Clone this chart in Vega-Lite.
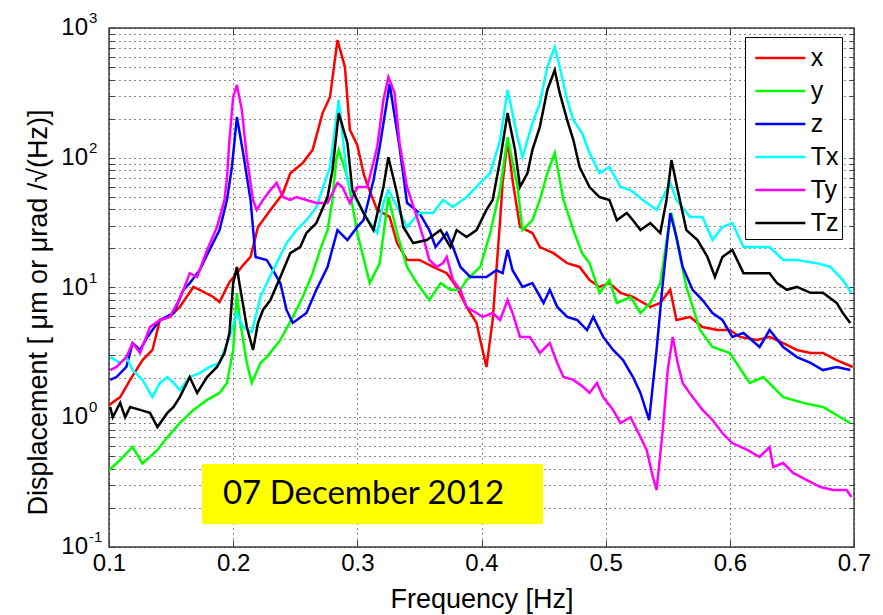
{
"$schema":"https://vega.github.io/schema/vega-lite/v6.json",
"width":745,"height":519,
"autosize":"none",
"padding":{"left":109,"top":28,"right":29,"bottom":68},
"background":"white",
"config":{"font":"Liberation Sans","view":{"stroke":"#404040","strokeWidth":1.5}},
"datasets":{
"spec":[
{"s":"x","f":0.100,"v":1.24},{"s":"x","f":0.109,"v":1.43},{"s":"x","f":0.117,"v":1.94},{"s":"x","f":0.127,"v":2.76},{"s":"x","f":0.135,"v":3.30},{"s":"x","f":0.141,"v":5.62},{"s":"x","f":0.149,"v":5.93},{"s":"x","f":0.157,"v":7.08},{"s":"x","f":0.168,"v":10.1},{"s":"x","f":0.173,"v":9.6},{"s":"x","f":0.184,"v":8.45},{"s":"x","f":0.189,"v":7.73},{"s":"x","f":0.197,"v":11.0},{"s":"x","f":0.203,"v":12.9},{"s":"x","f":0.208,"v":14.9},{"s":"x","f":0.214,"v":17.2},{"s":"x","f":0.220,"v":29.3},{"s":"x","f":0.230,"v":39.6},{"s":"x","f":0.240,"v":53},{"s":"x","f":0.246,"v":76},{"s":"x","f":0.256,"v":91},{"s":"x","f":0.264,"v":115},{"s":"x","f":0.272,"v":221},{"s":"x","f":0.278,"v":294},{"s":"x","f":0.284,"v":808},{"s":"x","f":0.290,"v":500},{"s":"x","f":0.294,"v":164},{"s":"x","f":0.300,"v":125},{"s":"x","f":0.305,"v":76},{"s":"x","f":0.308,"v":62},{"s":"x","f":0.316,"v":39.6},{"s":"x","f":0.326,"v":35},{"s":"x","f":0.332,"v":22},{"s":"x","f":0.340,"v":16.3},{"s":"x","f":0.350,"v":16.3},{"s":"x","f":0.361,"v":14.4},{"s":"x","f":0.372,"v":12.9},{"s":"x","f":0.380,"v":10.1},{"s":"x","f":0.388,"v":7.08},{"s":"x","f":0.396,"v":5.33},{"s":"x","f":0.399,"v":3.94},{"s":"x","f":0.404,"v":2.44},{"s":"x","f":0.409,"v":5.62},{"s":"x","f":0.412,"v":13.6},{"s":"x","f":0.415,"v":33},{"s":"x","f":0.417,"v":64},{"s":"x","f":0.421,"v":137},{"s":"x","f":0.425,"v":67},{"s":"x","f":0.431,"v":29.3},{"s":"x","f":0.441,"v":26.3},{"s":"x","f":0.447,"v":20.5},{"s":"x","f":0.458,"v":18.4},{"s":"x","f":0.469,"v":15.4},{"s":"x","f":0.479,"v":14.4},{"s":"x","f":0.487,"v":11.4},{"s":"x","f":0.495,"v":10.1},{"s":"x","f":0.503,"v":10.8},{"s":"x","f":0.512,"v":9.1},{"s":"x","f":0.522,"v":8.45},{"s":"x","f":0.536,"v":7.08},{"s":"x","f":0.544,"v":7.6},{"s":"x","f":0.552,"v":9.6},{"s":"x","f":0.557,"v":5.62},{"s":"x","f":0.568,"v":5.93},{"s":"x","f":0.578,"v":4.96},{"s":"x","f":0.590,"v":4.70},{"s":"x","f":0.600,"v":4.70},{"s":"x","f":0.608,"v":4.16},{"s":"x","f":0.622,"v":3.94},{"s":"x","f":0.632,"v":4.16},{"s":"x","f":0.643,"v":3.73},{"s":"x","f":0.654,"v":3.30},{"s":"x","f":0.665,"v":3.13},{"s":"x","f":0.675,"v":3.13},{"s":"x","f":0.686,"v":2.76},{"s":"x","f":0.699,"v":2.44},
{"s":"y","f":0.100,"v":0.39},{"s":"y","f":0.109,"v":0.47},{"s":"y","f":0.119,"v":0.59},{"s":"y","f":0.127,"v":0.44},{"s":"y","f":0.139,"v":0.56},{"s":"y","f":0.147,"v":0.70},{"s":"y","f":0.157,"v":0.90},{"s":"y","f":0.168,"v":1.14},{"s":"y","f":0.179,"v":1.36},{"s":"y","f":0.189,"v":1.54},{"s":"y","f":0.195,"v":1.84},{"s":"y","f":0.200,"v":3.30},{"s":"y","f":0.203,"v":9.1},{"s":"y","f":0.205,"v":5.93},{"s":"y","f":0.211,"v":2.62},{"s":"y","f":0.215,"v":1.84},{"s":"y","f":0.222,"v":2.62},{"s":"y","f":0.227,"v":2.91},{"s":"y","f":0.238,"v":3.94},{"s":"y","f":0.248,"v":5.93},{"s":"y","f":0.256,"v":8.45},{"s":"y","f":0.264,"v":12.9},{"s":"y","f":0.270,"v":19.5},{"s":"y","f":0.276,"v":27.7},{"s":"y","f":0.280,"v":47.3},{"s":"y","f":0.283,"v":96},{"s":"y","f":0.285,"v":115},{"s":"y","f":0.292,"v":71},{"s":"y","f":0.300,"v":26.3},{"s":"y","f":0.310,"v":10.8},{"s":"y","f":0.318,"v":15.4},{"s":"y","f":0.325,"v":49.8},{"s":"y","f":0.332,"v":26.3},{"s":"y","f":0.340,"v":14.4},{"s":"y","f":0.348,"v":10.8},{"s":"y","f":0.358,"v":8.0},{"s":"y","f":0.367,"v":10.8},{"s":"y","f":0.375,"v":9.6},{"s":"y","f":0.383,"v":9.6},{"s":"y","f":0.388,"v":11.4},{"s":"y","f":0.399,"v":14.4},{"s":"y","f":0.407,"v":26.3},{"s":"y","f":0.415,"v":57},{"s":"y","f":0.421,"v":144},{"s":"y","f":0.429,"v":59.5},{"s":"y","f":0.433,"v":27.7},{"s":"y","f":0.441,"v":33},{"s":"y","f":0.447,"v":47.3},{"s":"y","f":0.453,"v":76},{"s":"y","f":0.459,"v":109},{"s":"y","f":0.466,"v":47.3},{"s":"y","f":0.474,"v":27.7},{"s":"y","f":0.481,"v":18.4},{"s":"y","f":0.487,"v":15.4},{"s":"y","f":0.495,"v":9.1},{"s":"y","f":0.503,"v":11.4},{"s":"y","f":0.509,"v":7.6},{"s":"y","f":0.520,"v":8.45},{"s":"y","f":0.528,"v":6.36},{"s":"y","f":0.536,"v":7.6},{"s":"y","f":0.544,"v":10.8},{"s":"y","f":0.550,"v":26.3},{"s":"y","f":0.553,"v":37.5},{"s":"y","f":0.560,"v":17.2},{"s":"y","f":0.565,"v":10.1},{"s":"y","f":0.576,"v":4.70},{"s":"y","f":0.586,"v":3.48},{"s":"y","f":0.600,"v":3.13},{"s":"y","f":0.616,"v":1.84},{"s":"y","f":0.627,"v":2.04},{"s":"y","f":0.643,"v":1.43},{"s":"y","f":0.659,"v":1.29},{"s":"y","f":0.675,"v":1.20},{"s":"y","f":0.689,"v":1.0},{"s":"y","f":0.697,"v":0.9},
{"s":"z","f":0.101,"v":1.94},{"s":"z","f":0.106,"v":2.04},{"s":"z","f":0.114,"v":2.44},{"s":"z","f":0.119,"v":3.73},{"s":"z","f":0.125,"v":3.30},{"s":"z","f":0.131,"v":4.16},{"s":"z","f":0.135,"v":4.70},{"s":"z","f":0.141,"v":5.62},{"s":"z","f":0.152,"v":6.36},{"s":"z","f":0.160,"v":9.6},{"s":"z","f":0.165,"v":10.8},{"s":"z","f":0.173,"v":13.6},{"s":"z","f":0.181,"v":19.5},{"s":"z","f":0.189,"v":27.7},{"s":"z","f":0.195,"v":47.3},{"s":"z","f":0.199,"v":85},{"s":"z","f":0.203,"v":206},{"s":"z","f":0.208,"v":109},{"s":"z","f":0.214,"v":47.3},{"s":"z","f":0.218,"v":17.2},{"s":"z","f":0.227,"v":16.3},{"s":"z","f":0.232,"v":13.6},{"s":"z","f":0.238,"v":10.8},{"s":"z","f":0.243,"v":6.71},{"s":"z","f":0.248,"v":5.33},{"s":"z","f":0.259,"v":6.36},{"s":"z","f":0.267,"v":9.6},{"s":"z","f":0.276,"v":14.4},{"s":"z","f":0.284,"v":27.7},{"s":"z","f":0.292,"v":23.2},{"s":"z","f":0.300,"v":29.3},{"s":"z","f":0.305,"v":33},{"s":"z","f":0.313,"v":67},{"s":"z","f":0.318,"v":121},{"s":"z","f":0.324,"v":279},{"s":"z","f":0.326,"v":370},{"s":"z","f":0.334,"v":121},{"s":"z","f":0.340,"v":45},{"s":"z","f":0.350,"v":37.5},{"s":"z","f":0.358,"v":27.7},{"s":"z","f":0.363,"v":20.5},{"s":"z","f":0.372,"v":26.3},{"s":"z","f":0.377,"v":20.5},{"s":"z","f":0.383,"v":14.4},{"s":"z","f":0.391,"v":12.05},{"s":"z","f":0.399,"v":12.05},{"s":"z","f":0.404,"v":12.05},{"s":"z","f":0.412,"v":13.6},{"s":"z","f":0.417,"v":12.9},{"s":"z","f":0.421,"v":19.5},{"s":"z","f":0.425,"v":13.6},{"s":"z","f":0.433,"v":10.1},{"s":"z","f":0.441,"v":10.8},{"s":"z","f":0.450,"v":7.6},{"s":"z","f":0.455,"v":9.6},{"s":"z","f":0.461,"v":7.08},{"s":"z","f":0.469,"v":5.93},{"s":"z","f":0.477,"v":5.62},{"s":"z","f":0.485,"v":4.70},{"s":"z","f":0.490,"v":5.93},{"s":"z","f":0.498,"v":4.16},{"s":"z","f":0.506,"v":3.30},{"s":"z","f":0.514,"v":2.76},{"s":"z","f":0.522,"v":2.04},{"s":"z","f":0.528,"v":1.54},{"s":"z","f":0.535,"v":0.95},{"s":"z","f":0.541,"v":3.30},{"s":"z","f":0.546,"v":10.8},{"s":"z","f":0.552,"v":37.5},{"s":"z","f":0.557,"v":24.5},{"s":"z","f":0.562,"v":14.4},{"s":"z","f":0.570,"v":9.6},{"s":"z","f":0.578,"v":8.0},{"s":"z","f":0.586,"v":6.36},{"s":"z","f":0.594,"v":5.62},{"s":"z","f":0.602,"v":4.16},{"s":"z","f":0.611,"v":4.46},{"s":"z","f":0.624,"v":3.48},{"s":"z","f":0.632,"v":4.70},{"s":"z","f":0.643,"v":3.48},{"s":"z","f":0.654,"v":2.91},{"s":"z","f":0.665,"v":2.62},{"s":"z","f":0.675,"v":2.31},{"s":"z","f":0.686,"v":2.44},{"s":"z","f":0.697,"v":2.31},
{"s":"Tx","f":0.101,"v":2.91},{"s":"Tx","f":0.109,"v":2.62},{"s":"Tx","f":0.114,"v":2.91},{"s":"Tx","f":0.119,"v":2.31},{"s":"Tx","f":0.127,"v":1.94},{"s":"Tx","f":0.135,"v":1.43},{"s":"Tx","f":0.141,"v":1.84},{"s":"Tx","f":0.147,"v":2.04},{"s":"Tx","f":0.152,"v":1.84},{"s":"Tx","f":0.157,"v":1.62},{"s":"Tx","f":0.165,"v":2.04},{"s":"Tx","f":0.173,"v":2.19},{"s":"Tx","f":0.181,"v":2.44},{"s":"Tx","f":0.189,"v":2.62},{"s":"Tx","f":0.197,"v":4.16},{"s":"Tx","f":0.203,"v":6.36},{"s":"Tx","f":0.208,"v":4.96},{"s":"Tx","f":0.215,"v":4.54},{"s":"Tx","f":0.222,"v":8.45},{"s":"Tx","f":0.227,"v":10.8},{"s":"Tx","f":0.235,"v":15.4},{"s":"Tx","f":0.243,"v":22},{"s":"Tx","f":0.251,"v":27.7},{"s":"Tx","f":0.259,"v":33},{"s":"Tx","f":0.267,"v":41.7},{"s":"Tx","f":0.278,"v":84.9},{"s":"Tx","f":0.285,"v":279},{"s":"Tx","f":0.292,"v":67},{"s":"Tx","f":0.296,"v":53},{"s":"Tx","f":0.305,"v":37.5},{"s":"Tx","f":0.316,"v":26.3},{"s":"Tx","f":0.321,"v":44.8},{"s":"Tx","f":0.325,"v":56.4},{"s":"Tx","f":0.332,"v":41.7},{"s":"Tx","f":0.340,"v":29.3},{"s":"Tx","f":0.350,"v":37.5},{"s":"Tx","f":0.361,"v":37.5},{"s":"Tx","f":0.369,"v":47.3},{"s":"Tx","f":0.377,"v":41.7},{"s":"Tx","f":0.388,"v":49.8},{"s":"Tx","f":0.399,"v":64},{"s":"Tx","f":0.407,"v":76},{"s":"Tx","f":0.415,"v":137},{"s":"Tx","f":0.421,"v":333},{"s":"Tx","f":0.429,"v":144},{"s":"Tx","f":0.433,"v":101},{"s":"Tx","f":0.441,"v":185},{"s":"Tx","f":0.447,"v":264},{"s":"Tx","f":0.453,"v":500},{"s":"Tx","f":0.459,"v":714},{"s":"Tx","f":0.463,"v":500},{"s":"Tx","f":0.469,"v":279},{"s":"Tx","f":0.474,"v":195},{"s":"Tx","f":0.481,"v":155},{"s":"Tx","f":0.487,"v":109},{"s":"Tx","f":0.495,"v":76},{"s":"Tx","f":0.503,"v":84.9},{"s":"Tx","f":0.512,"v":59.5},{"s":"Tx","f":0.520,"v":56.4},{"s":"Tx","f":0.530,"v":47.3},{"s":"Tx","f":0.541,"v":39.6},{"s":"Tx","f":0.552,"v":64},{"s":"Tx","f":0.557,"v":47.3},{"s":"Tx","f":0.568,"v":34.9},{"s":"Tx","f":0.578,"v":34.9},{"s":"Tx","f":0.586,"v":23.2},{"s":"Tx","f":0.594,"v":29.3},{"s":"Tx","f":0.602,"v":31.4},{"s":"Tx","f":0.611,"v":20.5},{"s":"Tx","f":0.622,"v":20.5},{"s":"Tx","f":0.632,"v":20.5},{"s":"Tx","f":0.643,"v":16.3},{"s":"Tx","f":0.654,"v":16.3},{"s":"Tx","f":0.670,"v":15.4},{"s":"Tx","f":0.681,"v":14.4},{"s":"Tx","f":0.691,"v":11.4},{"s":"Tx","f":0.698,"v":9.1},
{"s":"Ty","f":0.101,"v":2.31},{"s":"Ty","f":0.106,"v":2.44},{"s":"Ty","f":0.114,"v":2.91},{"s":"Ty","f":0.119,"v":3.73},{"s":"Ty","f":0.125,"v":3.13},{"s":"Ty","f":0.133,"v":4.96},{"s":"Ty","f":0.141,"v":5.62},{"s":"Ty","f":0.149,"v":5.93},{"s":"Ty","f":0.155,"v":7.6},{"s":"Ty","f":0.160,"v":9.6},{"s":"Ty","f":0.165,"v":12.9},{"s":"Ty","f":0.171,"v":12.05},{"s":"Ty","f":0.179,"v":19.5},{"s":"Ty","f":0.187,"v":29.3},{"s":"Ty","f":0.193,"v":47.3},{"s":"Ty","f":0.195,"v":70},{"s":"Ty","f":0.197,"v":137},{"s":"Ty","f":0.200,"v":294},{"s":"Ty","f":0.203,"v":364},{"s":"Ty","f":0.207,"v":233},{"s":"Ty","f":0.211,"v":101},{"s":"Ty","f":0.216,"v":47.3},{"s":"Ty","f":0.219,"v":39.6},{"s":"Ty","f":0.224,"v":47.3},{"s":"Ty","f":0.230,"v":56.4},{"s":"Ty","f":0.235,"v":64},{"s":"Ty","f":0.240,"v":49.8},{"s":"Ty","f":0.246,"v":47.3},{"s":"Ty","f":0.251,"v":49.8},{"s":"Ty","f":0.259,"v":47.3},{"s":"Ty","f":0.267,"v":44.8},{"s":"Ty","f":0.276,"v":44.8},{"s":"Ty","f":0.284,"v":64},{"s":"Ty","f":0.288,"v":59.5},{"s":"Ty","f":0.294,"v":44.8},{"s":"Ty","f":0.300,"v":59.5},{"s":"Ty","f":0.308,"v":59.5},{"s":"Ty","f":0.316,"v":121},{"s":"Ty","f":0.321,"v":279},{"s":"Ty","f":0.325,"v":419},{"s":"Ty","f":0.330,"v":316},{"s":"Ty","f":0.334,"v":130},{"s":"Ty","f":0.340,"v":59.5},{"s":"Ty","f":0.348,"v":34.9},{"s":"Ty","f":0.353,"v":24.5},{"s":"Ty","f":0.358,"v":16.3},{"s":"Ty","f":0.364,"v":14.4},{"s":"Ty","f":0.369,"v":15.4},{"s":"Ty","f":0.372,"v":17.2},{"s":"Ty","f":0.377,"v":11.4},{"s":"Ty","f":0.383,"v":9.6},{"s":"Ty","f":0.388,"v":7.08},{"s":"Ty","f":0.396,"v":6.36},{"s":"Ty","f":0.401,"v":5.93},{"s":"Ty","f":0.409,"v":6.36},{"s":"Ty","f":0.415,"v":5.62},{"s":"Ty","f":0.421,"v":8.0},{"s":"Ty","f":0.425,"v":6.36},{"s":"Ty","f":0.431,"v":4.16},{"s":"Ty","f":0.439,"v":4.16},{"s":"Ty","f":0.447,"v":3.13},{"s":"Ty","f":0.455,"v":3.73},{"s":"Ty","f":0.461,"v":2.62},{"s":"Ty","f":0.466,"v":2.04},{"s":"Ty","f":0.474,"v":1.94},{"s":"Ty","f":0.482,"v":1.71},{"s":"Ty","f":0.487,"v":1.54},{"s":"Ty","f":0.493,"v":1.84},{"s":"Ty","f":0.498,"v":1.43},{"s":"Ty","f":0.506,"v":1.14},{"s":"Ty","f":0.512,"v":0.903},{"s":"Ty","f":0.520,"v":1.0},{"s":"Ty","f":0.528,"v":0.705},{"s":"Ty","f":0.533,"v":0.56},{"s":"Ty","f":0.538,"v":0.347},{"s":"Ty","f":0.541,"v":0.275},{"s":"Ty","f":0.546,"v":0.798},{"s":"Ty","f":0.550,"v":2.31},{"s":"Ty","f":0.554,"v":4.16},{"s":"Ty","f":0.558,"v":2.62},{"s":"Ty","f":0.562,"v":1.84},{"s":"Ty","f":0.570,"v":1.43},{"s":"Ty","f":0.578,"v":1.14},{"s":"Ty","f":0.586,"v":0.953},{"s":"Ty","f":0.594,"v":0.756},{"s":"Ty","f":0.602,"v":0.633},{"s":"Ty","f":0.614,"v":0.56},{"s":"Ty","f":0.624,"v":0.494},{"s":"Ty","f":0.632,"v":0.59},{"s":"Ty","f":0.635,"v":0.414},{"s":"Ty","f":0.643,"v":0.444},{"s":"Ty","f":0.651,"v":0.372},{"s":"Ty","f":0.662,"v":0.328},{"s":"Ty","f":0.673,"v":0.29},{"s":"Ty","f":0.683,"v":0.275},{"s":"Ty","f":0.694,"v":0.275},{"s":"Ty","f":0.698,"v":0.243},
{"s":"Tz","f":0.101,"v":1.20},{"s":"Tz","f":0.103,"v":1.0},{"s":"Tz","f":0.109,"v":1.29},{"s":"Tz","f":0.113,"v":1.0},{"s":"Tz","f":0.117,"v":1.20},{"s":"Tz","f":0.125,"v":1.14},{"s":"Tz","f":0.133,"v":1.08},{"s":"Tz","f":0.139,"v":0.84},{"s":"Tz","f":0.147,"v":1.08},{"s":"Tz","f":0.152,"v":1.20},{"s":"Tz","f":0.157,"v":1.43},{"s":"Tz","f":0.165,"v":2.04},{"s":"Tz","f":0.171,"v":1.54},{"s":"Tz","f":0.179,"v":2.04},{"s":"Tz","f":0.187,"v":2.44},{"s":"Tz","f":0.193,"v":3.13},{"s":"Tz","f":0.197,"v":4.46},{"s":"Tz","f":0.200,"v":10.8},{"s":"Tz","f":0.203,"v":14.4},{"s":"Tz","f":0.205,"v":10.8},{"s":"Tz","f":0.211,"v":4.96},{"s":"Tz","f":0.216,"v":3.30},{"s":"Tz","f":0.220,"v":5.33},{"s":"Tz","f":0.224,"v":6.71},{"s":"Tz","f":0.230,"v":8.0},{"s":"Tz","f":0.238,"v":12.05},{"s":"Tz","f":0.246,"v":18.4},{"s":"Tz","f":0.254,"v":20.5},{"s":"Tz","f":0.259,"v":26.3},{"s":"Tz","f":0.267,"v":31.4},{"s":"Tz","f":0.276,"v":49.8},{"s":"Tz","f":0.280,"v":80.5},{"s":"Tz","f":0.285,"v":221},{"s":"Tz","f":0.292,"v":130},{"s":"Tz","f":0.296,"v":56.4},{"s":"Tz","f":0.305,"v":37.5},{"s":"Tz","f":0.313,"v":27.7},{"s":"Tz","f":0.321,"v":59.5},{"s":"Tz","f":0.325,"v":101},{"s":"Tz","f":0.332,"v":53},{"s":"Tz","f":0.337,"v":29.3},{"s":"Tz","f":0.345,"v":22},{"s":"Tz","f":0.356,"v":23.2},{"s":"Tz","f":0.367,"v":27.7},{"s":"Tz","f":0.375,"v":20.5},{"s":"Tz","f":0.380,"v":27.7},{"s":"Tz","f":0.388,"v":24.5},{"s":"Tz","f":0.396,"v":27.7},{"s":"Tz","f":0.404,"v":39.6},{"s":"Tz","f":0.409,"v":47.3},{"s":"Tz","f":0.415,"v":96},{"s":"Tz","f":0.421,"v":221},{"s":"Tz","f":0.427,"v":115},{"s":"Tz","f":0.431,"v":59.5},{"s":"Tz","f":0.437,"v":76},{"s":"Tz","f":0.441,"v":115},{"s":"Tz","f":0.447,"v":173},{"s":"Tz","f":0.453,"v":333},{"s":"Tz","f":0.459,"v":474},{"s":"Tz","f":0.463,"v":316},{"s":"Tz","f":0.469,"v":195},{"s":"Tz","f":0.474,"v":137},{"s":"Tz","f":0.479,"v":84.9},{"s":"Tz","f":0.487,"v":59.5},{"s":"Tz","f":0.495,"v":49.8},{"s":"Tz","f":0.503,"v":47.3},{"s":"Tz","f":0.509,"v":33},{"s":"Tz","f":0.517,"v":37.5},{"s":"Tz","f":0.522,"v":33},{"s":"Tz","f":0.528,"v":27.7},{"s":"Tz","f":0.536,"v":31.4},{"s":"Tz","f":0.544,"v":26.3},{"s":"Tz","f":0.549,"v":47.3},{"s":"Tz","f":0.553,"v":96},{"s":"Tz","f":0.558,"v":56.4},{"s":"Tz","f":0.565,"v":27.7},{"s":"Tz","f":0.574,"v":23.2},{"s":"Tz","f":0.582,"v":17.2},{"s":"Tz","f":0.588,"v":12.05},{"s":"Tz","f":0.594,"v":17.2},{"s":"Tz","f":0.602,"v":19.5},{"s":"Tz","f":0.611,"v":12.9},{"s":"Tz","f":0.622,"v":12.9},{"s":"Tz","f":0.632,"v":12.9},{"s":"Tz","f":0.638,"v":10.8},{"s":"Tz","f":0.646,"v":9.6},{"s":"Tz","f":0.654,"v":10.1},{"s":"Tz","f":0.665,"v":9.1},{"s":"Tz","f":0.675,"v":9.1},{"s":"Tz","f":0.686,"v":7.6},{"s":"Tz","f":0.691,"v":6.36},{"s":"Tz","f":0.697,"v":5.33}
],
"box":[{"x1":0.1749,"x2":0.4495,"y1":0.150,"y2":0.436}],
"note":[{"f":0.305,"v":0.256,"t":"07 December 2012"}],
"ylab":[{"v":0.1,"e":"-1"},{"v":1,"e":"0"},{"v":10,"e":"1"},{"v":100,"e":"2"},{"v":1000,"e":"3"}]
},
"layer":[
{"data":{"name":"spec"},
 "mark":{"type":"line","strokeWidth":2.5,"clip":true},
 "encoding":{
  "x":{"field":"f","type":"quantitative","scale":{"domain":[0.1,0.7],"nice":false,"zero":false},
   "axis":{"orient":"bottom","values":[0.1,0.2,0.3,0.4,0.5,0.6,0.7],"format":".1f","labelFontSize":24,"labelColor":"black","labelPadding":11,"labelFlush":false,
    "grid":true,"gridDash":[1,4],"gridColor":"black","gridOpacity":0.9,"gridWidth":1,
    "ticks":true,"tickSize":-7,"tickColor":"#404040","domain":false,
    "title":"Frequency [Hz]","titleFontSize":27,"titleFontWeight":"normal","titleColor":"black","titleY":52,"titleBaseline":"middle"}},
  "y":{"field":"v","type":"quantitative","scale":{"type":"log","domain":[0.1,1000],"nice":false},
   "axis":{"orient":"left","values":[0.1,0.2,0.3,0.4,0.5,0.6,0.7,0.8,0.9,1,2,3,4,5,6,7,8,9,10,20,30,40,50,60,70,80,90,100,200,300,400,500,600,700,800,900,1000],
    "labels":false,"grid":true,"gridDash":[1,4],"gridColor":"black","gridOpacity":0.9,"gridWidth":1,
    "ticks":true,"tickSize":-5,"tickColor":"#404040","domain":false,
    "title":"Displacement [ μm or μrad /√(Hz)]","titleFontSize":27,"titleFontWeight":"normal","titleColor":"black","titleX":-71,"titleY":284,"titleAngle":270,"titleBaseline":"middle","titleAlign":"center"}},
  "color":{"field":"s","type":"nominal",
   "scale":{"domain":["x","y","z","Tx","Ty","Tz"],"range":["#ff0000","#00ff00","#0000ff","#00ffff","#ff00ff","#000000"]},
   "legend":{"orient":"none","legendX":636,"legendY":9,"title":null,"labelFontSize":25,"labelColor":"black","labelFont":"Liberation Sans",
    "padding":3,"strokeColor":"#000","fillColor":"white","labelOffset":26.7,"rowPadding":2,
    "symbolType":"M-0.64,0H2.36","symbolSize":1111,"symbolStrokeWidth":2.5}}
 }},
{"data":{"name":"box"},
 "mark":{"type":"rect","color":"#ffff00"},
 "encoding":{
  "x":{"field":"x1","type":"quantitative","axis":{"orient":"top","values":[0.1,0.2,0.3,0.4,0.5,0.6,0.7],"labels":false,"grid":false,"ticks":true,"tickSize":-7,"tickColor":"#404040","domain":false,"title":null}},
  "x2":{"field":"x2"},
  "y":{"field":"y1","type":"quantitative","axis":{"orient":"right","values":[0.1,0.2,0.3,0.4,0.5,0.6,0.7,0.8,0.9,1,2,3,4,5,6,7,8,9,10,20,30,40,50,60,70,80,90,100,200,300,400,500,600,700,800,900,1000],"labels":false,"grid":false,"ticks":true,"tickSize":-5,"tickColor":"#404040","domain":false,"title":null}},
  "y2":{"field":"y2"}
 }},
{"data":{"name":"note"},
 "mark":{"type":"text","font":"Lato","fontSize":33,"color":"black","align":"center","baseline":"middle"},
 "encoding":{
  "x":{"field":"f","type":"quantitative","axis":null},
  "y":{"field":"v","type":"quantitative","axis":null},
  "text":{"field":"t"}
 }},
{"data":{"name":"ylab"},
 "mark":{"type":"text","fontSize":24,"color":"black","align":"right","baseline":"middle","dx":-21,"clip":false},
 "encoding":{
  "x":{"datum":0.1,"type":"quantitative","axis":null},
  "y":{"field":"v","type":"quantitative","axis":null},
  "text":{"value":"10"}
 }},
{"data":{"name":"ylab"},
 "mark":{"type":"text","fontSize":15,"color":"black","align":"left","baseline":"middle","dx":-20,"dy":-10,"clip":false},
 "encoding":{
  "x":{"datum":0.1,"type":"quantitative","axis":null},
  "y":{"field":"v","type":"quantitative","axis":null},
  "text":{"field":"e"}
 }}
],
"resolve":{"axis":{"x":"independent","y":"independent"}}
}
